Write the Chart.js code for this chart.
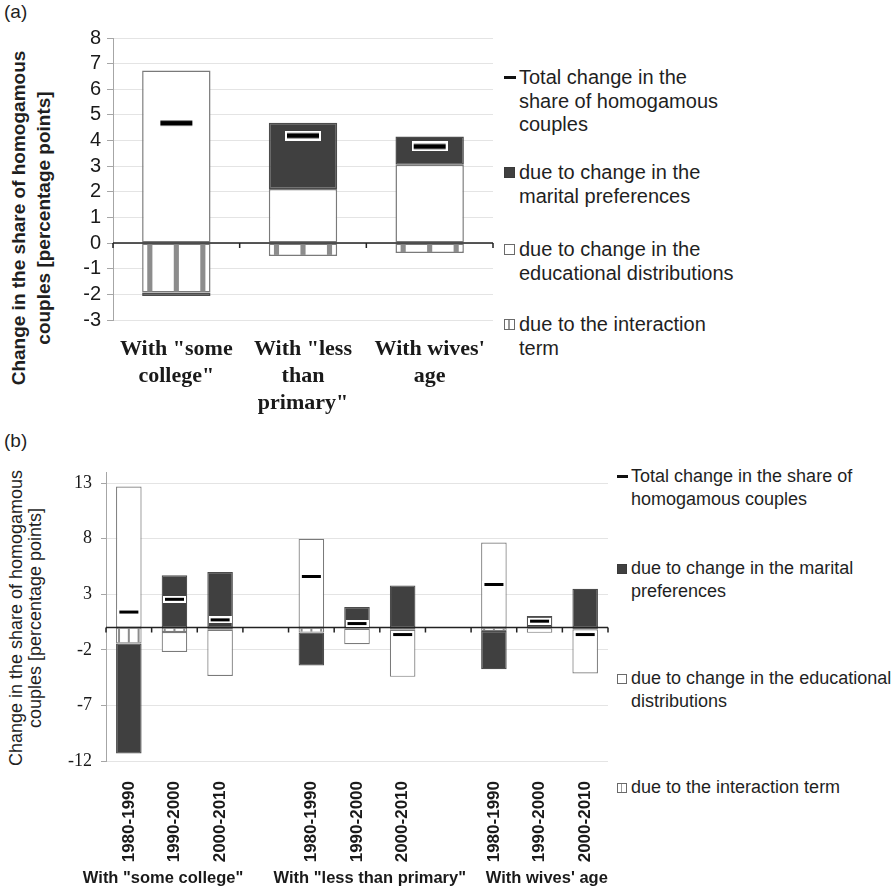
<!DOCTYPE html>
<html>
<head>
<meta charset="utf-8">
<script src="https://cdn.jsdelivr.net/npm/chart.js@4.4.0/dist/chart.umd.min.js"></script>
<style>
  body { margin: 0; background: #fff; width: 895px; height: 889px; position: relative; overflow: hidden;
         font-family: Arial, "Liberation Sans", sans-serif; color: #1f1f1f; }
  canvas { position: absolute; left: 0; }
  #chartA { top: 0; }
  #chartB { top: 440px; }
  .tag { position: absolute; left: 4px; font-size: 19px; }
  .ytitle { position: absolute; width: 420px; text-align: center; white-space: nowrap; transform: rotate(-90deg); }
  .leg { position: absolute; white-space: nowrap; }
  .key { position: absolute; box-sizing: border-box; }
</style>
</head>
<body>
<div class="tag" style="top:1px">(a)</div>
<div class="tag" style="top:430px">(b)</div>
<div class="ytitle" id="titleA" style="left:-179px;top:193px;font-weight:bold;font-size:19px;line-height:25px">Change in the share of homogamous<br>couples [percentage points]</div>
<div class="ytitle" id="titleB" style="left:-184px;top:599px;font-size:18px;line-height:19px">Change in the share of homogamous<br>couples [percentage points]</div>
<canvas id="chartA" width="500" height="420"></canvas>
<canvas id="chartB" width="620" height="449"></canvas>
<div id="legendA"></div>
<div id="legendB"></div>
<script>
// ---- panel (a) ----
const catsA = [['With "some', 'college"'], ['With "less', 'than', 'primary"'], ["With wives'", 'age']];
const totalA = [4.68, 4.19, 3.77];
const maritalA = [-0.13, 2.58, 1.1];
const educA = [6.73, 2.11, 3.06];
const interA = [-1.93, -0.5, -0.39];
const ticksA = [-3, -2, -1, 0, 1, 2, 3, 4, 5, 6, 7, 8];

// ---- panel (b) ----
const periodsB = ['1980-1990', '1990-2000', '2000-2010', '', '1980-1990', '1990-2000', '2000-2010', '', '1980-1990', '1990-2000', '2000-2010'];
const groupsB = ['With "some college"', 'With "less than primary"', "With wives' age"];
const totalB = [1.4, 2.55, 0.7, null, 4.6, 0.37, -0.62, null, 3.88, 0.58, -0.62];
const maritalB = [-9.9, 4.7, 5.0, null, -2.95, 1.86, 3.8, null, -3.44, 1.05, 3.5];
const educB = [12.7, -1.8, -4.15, null, 8.0, -1.4, -4.23, null, 7.65, -0.42, -3.98];
const interB = [-1.43, -0.4, -0.2, null, -0.45, -0.1, -0.2, null, -0.3, -0.05, -0.15];
const ticksB = [-12, -7, -2, 3, 8, 13];

const legendA = [['Total change in the', 'share of homogamous', 'couples'], ['due to change in the', 'marital preferences'],
                 ['due to change in the', 'educational distributions'], ['due to the interaction', 'term']];
const legendB = [['Total change in the share of', 'homogamous couples'], ['due to change in the marital', 'preferences'],
                 ['due to change in the educational', 'distributions'], ['due to the interaction term']];

const DARK = '#404040';
const SANS = 'Arial, "Liberation Sans", sans-serif';
const SERIF = '"Liberation Serif", "Times New Roman", serif';

// black bar with white halo for the total change
function totalMarker(w, h, iw, ih) {
  const c = document.createElement('canvas');
  c.width = w; c.height = h;
  const g = c.getContext('2d');
  g.fillStyle = '#fff';
  g.fillRect(0, 0, w, h);
  g.fillStyle = '#000';
  g.fillRect((w - iw) / 2, (h - ih) / 2, iw, ih);
  return c;
}

// stripes for the interaction term + axis at zero with boundary ticks
const stripesAndAxis = {
  id: 'stripesAndAxis',
  afterDatasetDraw(chart, args) {
    const ds = chart.data.datasets[args.index];
    if (!ds.striped) return;
    const ctx = chart.ctx;
    const { chartArea: a, scales: { x, y } } = chart;
    ctx.save();
    ctx.fillStyle = '#8c8c8c';
    args.meta.data.forEach(bar => {
      const p = bar.getProps(['x', 'y', 'base', 'width']);
      if (isNaN(p.y) || isNaN(p.x)) return;
      const top = Math.min(p.y, p.base), h = Math.abs(p.base - p.y);
      if (h < 2) return;
      const sw = Math.max(2, p.width * 0.075);
      const left = p.x - p.width / 2;
      [left + sw, p.x - sw / 2, left + p.width - 2 * sw].forEach(sx => ctx.fillRect(sx, top + 1, sw, h - 2));
    });
    const y0 = y.getPixelForValue(0);
    const n = x.getLabels().length;
    const step = (a.right - a.left) / n;
    ctx.strokeStyle = '#222';
    ctx.lineWidth = 1.5;
    ctx.beginPath();
    ctx.moveTo(a.left, y0);
    ctx.lineTo(a.right, y0);
    for (let i = 0; i <= n; i++) {
      ctx.moveTo(a.left + i * step, y0);
      ctx.lineTo(a.left + i * step, y0 + 5);
    }
    ctx.stroke();
    ctx.restore();
  }
};

function datasets(total, inter, educ, marital, mk, bw) {
  return [
    { type: 'line', label: 'total', data: total, stack: 'total', order: 0, showLine: false,
      pointStyle: mk, pointRadius: 6, clip: false },
    { type: 'bar', label: 'interaction', data: inter, stack: 'parts', order: 1, striped: true,
      backgroundColor: '#fff', borderColor: '#7a7a7a', borderWidth: bw, borderSkipped: false },
    { type: 'bar', label: 'educational', data: educ, stack: 'parts', order: 1,
      backgroundColor: '#fff', borderColor: '#7a7a7a', borderWidth: bw, borderSkipped: false },
    { type: 'bar', label: 'marital', data: marital, stack: 'parts', order: 1,
      backgroundColor: DARK, borderColor: '#4c4c4c', borderWidth: bw, borderSkipped: false }
  ];
}

new Chart(document.getElementById('chartA'), {
  type: 'bar',
  data: { labels: catsA, datasets: datasets(totalA, interA, educA, maritalA, totalMarker(36, 10, 32, 5), 1.5) },
  options: {
    responsive: false, animation: false,
    categoryPercentage: 1, barPercentage: 0.54,
    layout: { padding: { top: 38, right: 3, left: 0, bottom: 0 } },
    plugins: { legend: { display: false }, tooltip: { enabled: false } },
    scales: {
      x: {
        stacked: true,
        afterFit: s => { s.height = 100; },
        grid: { display: false }, border: { display: false },
        ticks: { color: '#1a1a1a', maxRotation: 0, autoSkip: false, padding: 8,
                 font: { family: SERIF, size: 22, weight: 'bold', lineHeight: 1.23 } }
      },
      y: {
        stacked: true, min: -3, max: 8,
        afterBuildTicks: s => { s.ticks = ticksA.map(v => ({ value: v })); },
        afterFit: s => { s.width = 113; },
        border: { color: '#a6a6a6' },
        grid: { color: '#e4e4e4', tickColor: '#a6a6a6', tickLength: 6 },
        ticks: { color: '#1a1a1a', padding: 6, autoSkip: false, font: { family: SANS, size: 20 } }
      }
    }
  },
  plugins: [stripesAndAxis]
});

const groupLabels = {
  id: 'groupLabels',
  afterDraw(chart) {
    const { ctx, scales: { x } } = chart;
    const anchor = [0.75, 5.28, 9.16]; // label centres, in category units
    ctx.save();
    ctx.font = 'bold 16.5px ' + SANS;
    ctx.fillStyle = '#1a1a1a';
    ctx.textAlign = 'center';
    ctx.textBaseline = 'middle';
    groupsB.forEach((g, i) => ctx.fillText(g, x.getPixelForValue(anchor[i]), 438));
    ctx.restore();
  }
};

new Chart(document.getElementById('chartB'), {
  type: 'bar',
  data: { labels: periodsB, datasets: datasets(totalB, interB, educB, maritalB, totalMarker(23, 7, 19, 3), 1.2) },
  options: {
    responsive: false, animation: false,
    categoryPercentage: 1, barPercentage: 0.56,
    layout: { padding: { top: 32, right: 12, left: 0, bottom: 0 } },
    plugins: { legend: { display: false }, tooltip: { enabled: false } },
    scales: {
      x: {
        stacked: true,
        afterFit: s => { s.height = 128; },
        grid: { display: false }, border: { display: false },
        ticks: { color: '#1a1a1a', minRotation: 90, maxRotation: 90, autoSkip: false, padding: 12,
                 font: { family: SANS, size: 17, weight: 'bold' } }
      },
      y: {
        stacked: true, min: -12, max: 14,
        afterBuildTicks: s => { s.ticks = ticksB.map(v => ({ value: v })); },
        afterFit: s => { s.width = 106; },
        border: { color: '#a6a6a6' },
        grid: { color: '#e4e4e4', tickColor: '#a6a6a6', tickLength: 5 },
        ticks: { color: '#1a1a1a', padding: 9, autoSkip: false, font: { family: SERIF, size: 18 } }
      }
    }
  },
  plugins: [stripesAndAxis, groupLabels]
});

// HTML legends
const keyKinds = ['dash', 'dark', 'white', 'striped'];
function buildLegend(id, labels, cfg) {
  const box = document.getElementById(id);
  labels.forEach((lines, i) => {
    const top = cfg.tops[i];
    const t = document.createElement('div');
    t.className = 'leg';
    t.style.cssText = `left:${cfg.textX}px;top:${top}px;font-size:${cfg.size}px;line-height:${cfg.lh}px`;
    t.innerHTML = lines.join('<br>');
    box.appendChild(t);
    const k = document.createElement('div');
    k.className = 'key';
    const cy = top + cfg.lh / 2;
    const kind = keyKinds[i];
    if (kind === 'dash') {
      k.style.cssText = `left:${cfg.keyX}px;top:${cy - 1.5}px;width:${cfg.key + 1}px;height:2.5px;background:#111`;
    } else {
      let bg = '#fff', bd = '#6a6a6a';
      if (kind === 'dark') { bg = DARK; bd = '#3a3a3a'; }
      if (kind === 'striped') bg = 'linear-gradient(90deg,#fff 0 35%,#999 35% 55%,#fff 55% 100%)';
      k.style.cssText = `left:${cfg.keyX}px;top:${cy - cfg.key / 2}px;width:${cfg.key}px;height:${cfg.key}px;background:${bg};border:1px solid ${bd}`;
    }
    box.appendChild(k);
  });
}
buildLegend('legendA', legendA, { textX: 519, keyX: 504, key: 11, size: 20, lh: 23.5, tops: [66, 161, 238, 313] });
buildLegend('legendB', legendB, { textX: 631, keyX: 617, key: 10, size: 18, lh: 23, tops: [465, 557, 667, 776] });
</script>
</body>
</html>
